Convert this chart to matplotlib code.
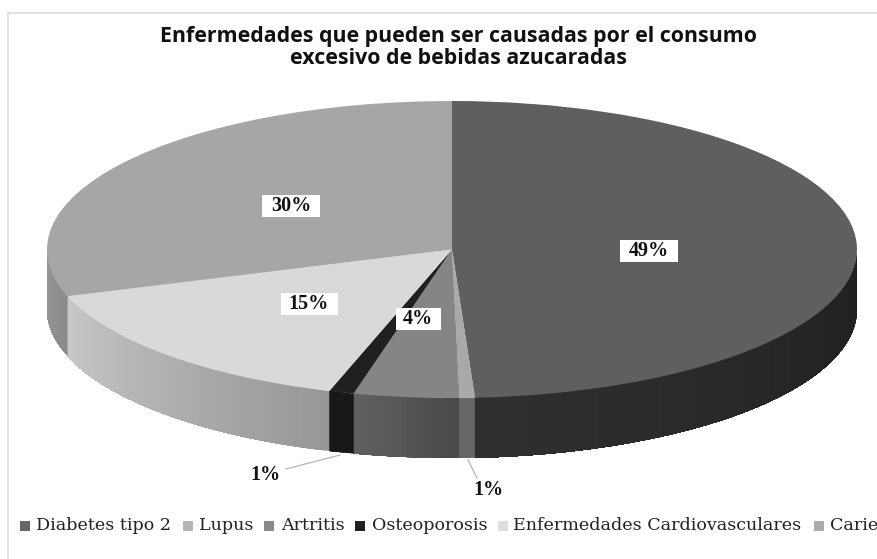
import numpy as np
import matplotlib
matplotlib.use("Agg")
import matplotlib.pyplot as plt
from matplotlib.patches import Rectangle
from matplotlib.colors import to_rgb

categories = ["Diabetes tipo 2", "Lupus", "Artritis", "Osteoporosis",
              "Enfermedades Cardiovasculares", "Caries"]
values = [49.1, 0.6, 4.2, 1.0, 15.0, 30.1]
top_colors = ["#5f5f5f", "#a9a9a9", "#858585", "#202020", "#d9d9d9", "#a6a6a6"]
wall_start = ["#1f1f1f", "#666666", "#4a4a4a", "#181818", "#979797", "#8a8a8a"]
wall_end = ["#303030", "#666666", "#606060", "#181818", "#c8c8c8", "#979797"]
legend_colors = ["#666666", "#b4b4b4", "#8a8a8a", "#222222", "#dedede", "#ababab"]
title = "Enfermedades que pueden ser causadas por el consumo\nexcesivo de bebidas azucaradas"

W, H = 877, 559
fig = plt.figure(figsize=(W / 100, H / 100), dpi=100, facecolor="white")

# pixel overlay for frame, labels and legend
px = fig.add_axes([0, 0, 1, 1], zorder=3)
px.set_xlim(0, W)
px.set_ylim(H, 0)
px.axis("off")
px.patch.set_alpha(0)

# pie axes: the unit circle maps on the top ellipse
left, right, top, bottom = 47, 857, 101, 398
depth = 60 / ((bottom - top) / 2)
ax = fig.add_axes([0, 0, 1, 1], zorder=2)
rx = (right - left) / 2
ry = (bottom - top) / 2
cx = (left + right) / 2
cy = (top + bottom) / 2
ax.pie(values, colors=top_colors, startangle=90, counterclock=False, radius=1,
       wedgeprops=dict(linewidth=0))
ax.set_aspect("auto")
ax.set_xlim((0 - cx) / rx, (W - cx) / rx)
ax.set_ylim((cy - H) / ry, cy / ry)
ax.patch.set_alpha(0)

# side wall, extruded from the same values; overlapping strips avoid seams
edges = np.concatenate([[0], np.cumsum(values)]) / sum(values) * 360
for i in range(len(values)):
    a0, a1 = max(edges[i], 90), min(edges[i + 1], 270)
    if a1 <= a0:
        continue
    n = max(2, int((a1 - a0) * 1.5))
    th = np.linspace(a0, a1, n + 1)
    c0, c1 = np.array(to_rgb(wall_start[i])), np.array(to_rgb(wall_end[i]))
    for j in range(n):
        t = np.radians(np.linspace(th[j], a1, max(2, n - j + 1)))
        x, y = np.sin(t), np.cos(t)
        col = c0 + (c1 - c0) * (j / max(n - 1, 1))
        ax.fill(np.r_[x, x[::-1]], np.r_[y, y[::-1] - depth],
                color=col, lw=0, zorder=0.1 + 0.001 * j + i)
for w in ax.patches:
    if w.get_zorder() == 1:
        w.set_zorder(20)

# frame
px.plot([7.5, 7.5], [13, H], color="#dddddd", lw=1.2)
px.plot([7.5, W], [13, 13], color="#dddddd", lw=1.2)

# title
px.text(459, 47.5, title, ha="center", va="center", family="Open Sans",
        fontweight="bold", fontsize=15.4, color="#111111", linespacing=1.1)

# percent labels
lab = dict(ha="center", va="center", family="Liberation Serif", fontweight="bold",
           fontsize=14.5, color="#111111", zorder=5)
pct = [f"{round(v)}%" for v in values]
for k, xc, yc, bw in [(0, 649, 251, 58), (2, 418, 319, 45), (4, 309, 304, 57), (5, 291, 206, 58)]:
    px.add_patch(Rectangle((xc - bw / 2, yc - 11), bw, 22, facecolor="white", edgecolor="none", zorder=4))
    px.text(xc, yc, pct[k], **lab)
px.text(488, 490, pct[1], **lab)
px.text(265, 475, pct[3], **lab)
px.plot([340, 286], [455, 469], color="#b5b5b5", lw=0.9)
px.plot([468, 477], [460, 478], color="#b5b5b5", lw=0.9)

# legend, clipped by the figure edge as in the reference
sq_x = [20, 183, 264, 355, 498, 814]
tx_x = [36, 199, 281, 372, 513, 830]
for c, col, sx, tx in zip(categories, legend_colors, sq_x, tx_x):
    px.add_patch(Rectangle((sx, 521), 10, 10, facecolor=col, edgecolor="none"))
    px.text(tx, 526, c, ha="left", va="center", family="DejaVu Serif", fontsize=12.6,
            color="#222222")

fig.savefig("out.png", dpi=100)
